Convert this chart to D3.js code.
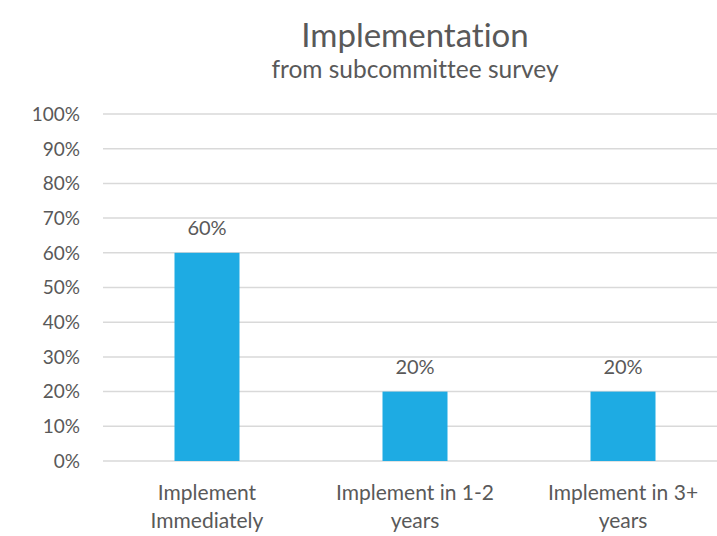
<!DOCTYPE html>
<html><head><meta charset="utf-8">
<script src="https://cdn.jsdelivr.net/npm/d3@7"></script>
<style>body{margin:0;background:#fff}svg{display:block}text{font-family:Lato,"Open Sans",sans-serif;fill:#595959;font-variant-ligatures:none}</style>
</head><body>
<svg id="c" width="717" height="536"></svg>
<script>
const categories = [["Implement","Immediately"],["Implement in 1-2","years"],["Implement in 3+","years"]];
const values = [0.60, 0.20, 0.20];
const yTicks = [0,0.1,0.2,0.3,0.4,0.5,0.6,0.7,0.8,0.9,1.0];
const title = "Implementation";
const subtitle = "from subcommittee survey";

const svg = d3.select("#c");
const x = d3.scaleBand().domain(d3.range(categories.length)).range([103,727]).paddingInner(0.6875).paddingOuter(0.34375);
const y = d3.scaleLinear().domain([0,1]).range([461,114]);
const fmt = d3.format(".0%");

svg.selectAll("line.grid").data(yTicks).join("line")
  .attr("x1",103).attr("x2",727).attr("y1",d=>y(d)).attr("y2",d=>y(d))
  .attr("stroke","#d9d9d9").attr("stroke-width",1.5);

svg.selectAll("text.yt").data(yTicks).join("text")
  .attr("x",80).attr("y",d=>y(d)).attr("dy","0.36em").attr("text-anchor","end")
  .attr("font-size",19).text(fmt);

svg.selectAll("rect.bar").data(values).join("rect")
  .attr("x",(d,i)=>x(i)).attr("width",x.bandwidth())
  .attr("y",d=>y(d)).attr("height",d=>y(0)-y(d)).attr("fill","#1eabe3");

svg.selectAll("text.lbl").data(values).join("text")
  .attr("x",(d,i)=>x(i)+x.bandwidth()/2).attr("y",d=>y(d)-18)
  .attr("text-anchor","middle").attr("font-size",20).text(fmt);

const cat = svg.selectAll("text.cat").data(categories).join("text")
  .attr("x",(d,i)=>x(i)+x.bandwidth()/2).attr("y",500)
  .attr("text-anchor","middle").attr("font-size",21);
cat.selectAll("tspan").data(d=>d).join("tspan")
  .attr("x",function(){return this.parentNode.getAttribute("x");})
  .attr("dy",(d,i)=>i?28:0).text(d=>d);

svg.append("text").attr("x",415).attr("y",47).attr("text-anchor","middle").attr("font-size",33).text(title);
svg.append("text").attr("x",415).attr("y",78).attr("text-anchor","middle").attr("font-size",24.5).text(subtitle);
</script>
</body></html>
